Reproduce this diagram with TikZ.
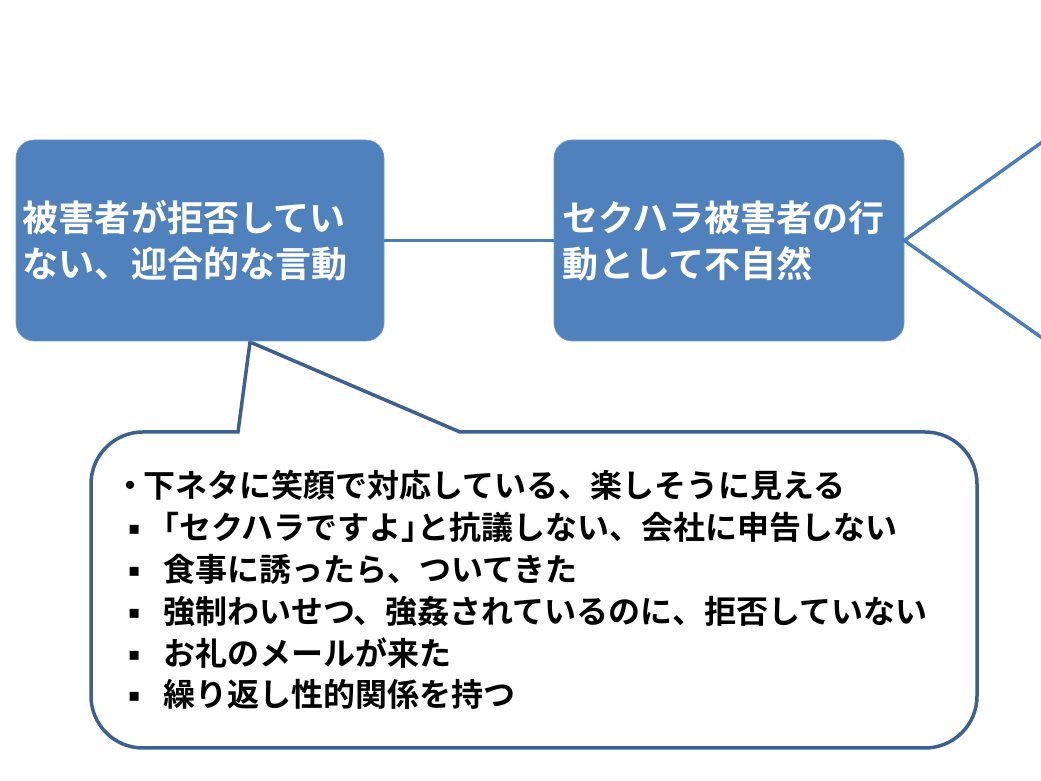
\documentclass[tikz,border=0pt]{standalone}
\usepackage{fontspec}
\newfontfamily\jpb{Noto Sans CJK JP Bold}
\newfontfamily\djv{DejaVu Sans}
\definecolor{boxblue}{HTML}{4F81BD}
\definecolor{linkblue}{HTML}{4A7EBB}
\definecolor{calloutblue}{HTML}{3C6190}
\newcommand\sqb{\makebox[49pt][l]{\hspace{14pt}\raisebox{5pt}{\djv\fontsize{18}{18}\selectfont ▪}}}
\newcommand\pbr[1]{{\addfontfeature{RawFeature=+palt}#1}}
\begin{document}
\begin{tikzpicture}[x=1pt,y=1pt,
  bluebox/.style={draw=boxblue!80!white, line width=0.6pt, fill=boxblue,
    rounded corners=18pt, text=white, align=left,
    font=\jpb\fontsize{36}{46}\selectfont, minimum height=201pt,
    inner xsep=7pt, inner ysep=0pt},
  link/.style={draw=linkblue, line width=3.4pt},
  callout/.style={draw=calloutblue, line width=3.5pt, fill=white},
  item/.style={anchor=base west, inner sep=0pt,
    font=\jpb\fontsize{32}{40}\selectfont, text=black}]
\useasboundingbox (0,0) rectangle (1041,781);
% callout
\coordinate (tip) at (250,439);
\draw[callout] (238,349) -- (tip) -- (460,349) -- (925,349)
  arc[start angle=90,end angle=0,radius=52] -- (977,85)
  arc[start angle=0,end angle=-90,radius=52] -- (143,33)
  arc[start angle=270,end angle=180,radius=52] -- (91,297)
  arc[start angle=180,end angle=90,radius=52] -- cycle;
% boxes
\node[bluebox, text width=354pt] (b1) at (200,540.5) {被害者が拒否してい\\ない、迎合的な言動};
\node[bluebox, text width=334pt, inner xsep=8pt] (b2) at (729,540.5) {セクハラ被害者の行\\動として不自然};
\draw[link] (b1.east) -- (b2.west);
\coordinate (up) at (1050,644.5);
\coordinate (dn) at (1050,437.5);
\draw[link] (up) -- (b2.east) -- (dn);
% items
\node[item] (l1) at (114,283) {・\kern-3pt 下ネタに笑顔で対応している、楽しそうに見える};
\node[item] (l2) at (114,241.2) {\sqb\pbr{「}セクハラですよ\pbr{」}と抗議しない、会社に申告しない};
\node[item] (l3) at (114,199.4) {\sqb 食事に誘ったら、ついてきた};
\node[item] (l4) at (114,157.6) {\sqb 強制わいせつ、強姦されているのに、拒否していない};
\node[item] (l5) at (114,115.8) {\sqb お礼のメールが来た};
\node[item] (l6) at (114,74) {\sqb 繰り返し性的関係を持つ};
\end{tikzpicture}
\end{document}
